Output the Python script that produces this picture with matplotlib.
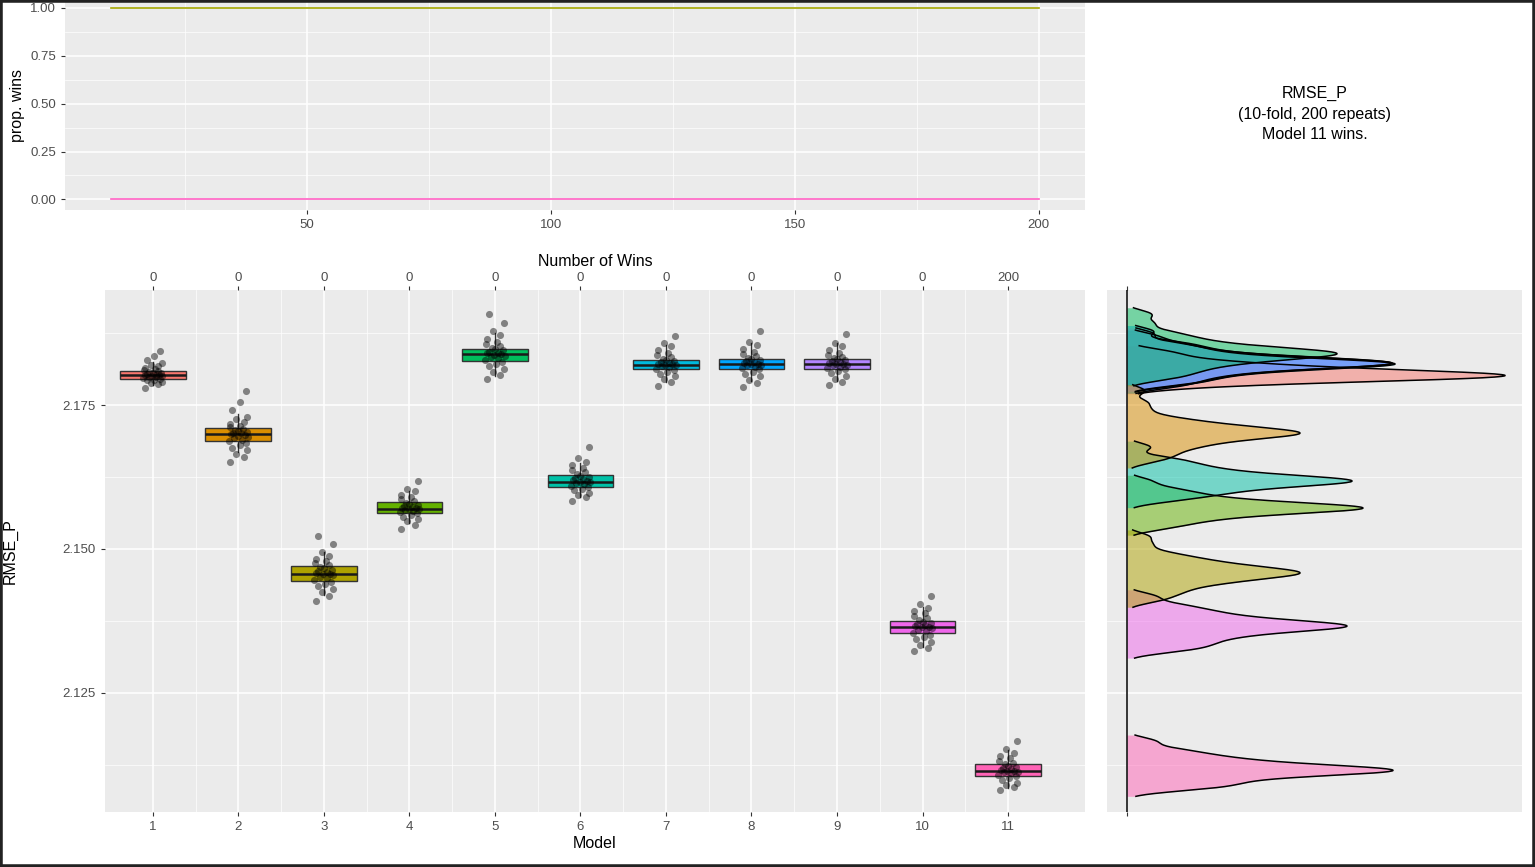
import numpy as np
import matplotlib.pyplot as plt
from matplotlib.patches import Rectangle

plt.rcParams['font.family'] = ['Liberation Sans', 'DejaVu Sans']

models = list(range(1, 12))
colors = ['#F8766D', '#DB8E00', '#AEA200', '#64B200', '#00BD5C', '#00C1A7',
          '#00BADE', '#00A6FF', '#B385FF', '#EF67EB', '#FF63B6']
wins = [0, 0, 0, 0, 0, 0, 0, 0, 0, 0, 200]

# box stats: (q1, median, q3, low whisker, high whisker)
box_stats = [
    (2.1795, 2.1803, 2.1810, 2.1785, 2.1825),
    (2.1687, 2.1700, 2.1710, 2.1668, 2.1735),
    (2.1444, 2.1457, 2.1470, 2.1420, 2.1495),
    (2.1562, 2.1570, 2.1581, 2.1545, 2.1600),
    (2.1826, 2.1838, 2.1848, 2.1800, 2.1875),
    (2.1607, 2.1617, 2.1629, 2.1590, 2.1650),
    (2.1812, 2.1820, 2.1829, 2.1790, 2.1855),
    (2.1813, 2.1822, 2.1830, 2.1792, 2.1858),
    (2.1813, 2.1822, 2.1830, 2.1792, 2.1858),
    (2.1354, 2.1365, 2.1375, 2.1330, 2.1400),
    (2.1106, 2.1115, 2.1126, 2.1085, 2.1150),
]

# sample of the jittered points per model
points = [
    [2.1780, 2.1786, 2.1789, 2.1791, 2.1793, 2.1794, 2.1796, 2.1797, 2.1798, 2.1799, 2.1800, 2.1801, 2.1802, 2.1802, 2.1803, 2.1804, 2.1805, 2.1806, 2.1808, 2.1810, 2.1811, 2.1813, 2.1815, 2.1818, 2.1820, 2.1824, 2.1828, 2.1836, 2.1844],
    [2.1652, 2.1660, 2.1665, 2.1672, 2.1676, 2.1680, 2.1684, 2.1687, 2.1690, 2.1692, 2.1695, 2.1697, 2.1698, 2.1700, 2.1701, 2.1702, 2.1704, 2.1705, 2.1707, 2.1709, 2.1712, 2.1714, 2.1717, 2.1720, 2.1725, 2.1730, 2.1742, 2.1755, 2.1775],
    [2.1410, 2.1418, 2.1425, 2.1430, 2.1436, 2.1440, 2.1443, 2.1446, 2.1449, 2.1451, 2.1454, 2.1456, 2.1457, 2.1459, 2.1460, 2.1462, 2.1464, 2.1467, 2.1469, 2.1472, 2.1475, 2.1479, 2.1483, 2.1488, 2.1495, 2.1508, 2.1522],
    [2.1535, 2.1542, 2.1548, 2.1552, 2.1556, 2.1559, 2.1562, 2.1564, 2.1566, 2.1568, 2.1569, 2.1570, 2.1571, 2.1572, 2.1573, 2.1575, 2.1576, 2.1578, 2.1580, 2.1583, 2.1586, 2.1590, 2.1594, 2.1600, 2.1605, 2.1618],
    [2.1795, 2.1802, 2.1808, 2.1813, 2.1818, 2.1822, 2.1825, 2.1828, 2.1831, 2.1833, 2.1835, 2.1837, 2.1838, 2.1840, 2.1841, 2.1843, 2.1845, 2.1847, 2.1849, 2.1852, 2.1856, 2.1860, 2.1865, 2.1871, 2.1878, 2.1892, 2.1908],
    [2.1583, 2.1590, 2.1594, 2.1598, 2.1602, 2.1605, 2.1608, 2.1610, 2.1613, 2.1615, 2.1616, 2.1617, 2.1618, 2.1620, 2.1621, 2.1623, 2.1625, 2.1627, 2.1630, 2.1633, 2.1637, 2.1641, 2.1646, 2.1652, 2.1658, 2.1677],
    [2.1784, 2.1790, 2.1795, 2.1800, 2.1804, 2.1808, 2.1811, 2.1813, 2.1816, 2.1818, 2.1819, 2.1820, 2.1821, 2.1822, 2.1823, 2.1825, 2.1826, 2.1828, 2.1830, 2.1833, 2.1837, 2.1841, 2.1846, 2.1852, 2.1858, 2.1870],
    [2.1781, 2.1788, 2.1794, 2.1800, 2.1804, 2.1808, 2.1812, 2.1814, 2.1817, 2.1819, 2.1820, 2.1821, 2.1822, 2.1823, 2.1825, 2.1826, 2.1828, 2.1830, 2.1832, 2.1835, 2.1838, 2.1843, 2.1848, 2.1854, 2.1860, 2.1878],
    [2.1785, 2.1791, 2.1796, 2.1801, 2.1805, 2.1809, 2.1812, 2.1814, 2.1817, 2.1819, 2.1820, 2.1821, 2.1822, 2.1823, 2.1825, 2.1826, 2.1828, 2.1830, 2.1831, 2.1834, 2.1837, 2.1841, 2.1846, 2.1852, 2.1858, 2.1874],
    [2.1322, 2.1328, 2.1333, 2.1338, 2.1343, 2.1347, 2.1351, 2.1354, 2.1357, 2.1360, 2.1362, 2.1364, 2.1365, 2.1366, 2.1368, 2.1370, 2.1372, 2.1374, 2.1377, 2.1380, 2.1384, 2.1388, 2.1393, 2.1398, 2.1405, 2.1418],
    [2.1082, 2.1086, 2.1090, 2.1094, 2.1098, 2.1102, 2.1105, 2.1108, 2.1110, 2.1112, 2.1113, 2.1114, 2.1115, 2.1116, 2.1118, 2.1120, 2.1121, 2.1123, 2.1126, 2.1129, 2.1132, 2.1136, 2.1140, 2.1146, 2.1152, 2.1166],
]
jitter = [-0.12, 0.08, -0.03, 0.13, -0.09, 0.02, 0.11, -0.14, 0.05, -0.06, 0.14, -0.01, 0.09, -0.11, 0.04, -0.08, 0.12, 0.0, -0.05, 0.07, -0.13, 0.03]

# peak heights of the density curves (panel units)
dens_peaks = [378, 173, 173, 236, 210, 225, 268, 265, 265, 220, 266]

# top panel lines
win_x = [10, 200]
prop_top = [1.0, 1.0]
prop_bottom = [0.0, 0.0]

BG = '#EBEBEB'
TXT = '#4D4D4D'

fig = plt.figure(figsize=(15.35, 8.67), dpi=100)
W, H = 1535, 867


def add_ax(x0, y0, x1, y1):
    return fig.add_axes([x0 / W, 1 - y1 / H, (x1 - x0) / W, (y1 - y0) / H])


def gg(ax):
    ax.set_facecolor(BG)
    for s in ax.spines.values():
        s.set_visible(False)
    ax.tick_params(colors='#333333', labelcolor=TXT, labelsize=9.5, length=3)
    ax.set_axisbelow(True)


# ---- top panel
ax0 = add_ax(65, 0, 1085, 210)
gg(ax0)
ax0.plot(win_x, prop_top, color='#A3A500', lw=1.2)
ax0.plot(win_x, prop_bottom, color='#FF61C3', lw=1.2)
ax0.set_xlim(0.5, 209.5)
ax0.set_ylim(-0.055, 1.04)
ax0.set_xticks([50, 100, 150, 200])
ax0.set_xticks([25, 75, 125, 175], minor=True)
ax0.set_yticks([0, 0.25, 0.5, 0.75, 1.0])
ax0.set_yticklabels(['0.00', '0.25', '0.50', '0.75', '1.00'])
ax0.set_yticks([0.125, 0.375, 0.625, 0.875], minor=True)
ax0.tick_params(which='minor', length=0)
ax0.grid(which='major', color='white', lw=1.1)
ax0.grid(which='minor', color='white', lw=0.5)
ax0.set_ylabel('prop. wins', fontsize=11.5, labelpad=4)

fig.text(1315 / W, 1 - 114 / H, 'RMSE_P\n(10-fold, 200 repeats)\nModel 11 wins.',
         ha='center', va='center', fontsize=11.5, linespacing=1.45)

# ---- main panel
ax = add_ax(105, 290, 1085, 812)
gg(ax)
ylo, yhi = 2.1043, 2.1950
stats = []
for (q1, med, q3, lo, hi) in box_stats:
    stats.append(dict(q1=q1, med=med, q3=q3, whislo=lo, whishi=hi, fliers=[]))
bp = ax.bxp(stats, positions=models, widths=0.77, patch_artist=True, showfliers=False,
            medianprops=dict(color='#1a1a1a', lw=1.8),
            whiskerprops=dict(color='#333333'), capprops=dict(visible=False),
            boxprops=dict(edgecolor='#333333', lw=1))
for patch, c in zip(bp['boxes'], colors):
    patch.set_facecolor(c)
for m, pts in zip(models, points):
    xs = [m + 0.8 * jitter[k % len(jitter)] for k in range(len(pts))]
    ax.scatter(xs, pts, s=26, color='black', alpha=0.45, lw=0, zorder=5)
ax.set_xlim(0.44, 11.9)
ax.set_ylim(ylo, yhi)
ax.set_xticks(models)
ax.set_xticklabels([str(m) for m in models])
ax.set_yticks([2.125, 2.150, 2.175])
ax.set_yticks([2.1125, 2.1375, 2.1625, 2.1875], minor=True)
ax.set_xticks([m + 0.5 for m in models[:-1]], minor=True)
ax.tick_params(which='minor', length=0)
ax.grid(which='major', color='white', lw=1.1)
ax.grid(which='minor', color='white', lw=0.5)
ax.set_xlabel('Model', fontsize=11.5, labelpad=2)
ax.set_ylabel('RMSE_P', fontsize=11.5)
ax.yaxis.set_label_coords(-87 / 980, 0.5)

axt = ax.twiny()
axt.set_xlim(ax.get_xlim())
axt.set_xticks(models)
axt.set_xticklabels([str(w) for w in wins])
axt.tick_params(colors='#333333', labelcolor=TXT, labelsize=9.5, length=3, pad=1)
for s in axt.spines.values():
    s.set_visible(False)
axt.set_xlabel('Number of Wins', fontsize=11.5, labelpad=5)

# ---- density panel
axd = add_ax(1107, 290, 1522, 812)
gg(axd)
grid_y = np.linspace(ylo, yhi, 1500)
order = np.argsort([-p for p in dens_peaks])
for i in order:
    pts = np.array(points[i])
    bw = 0.0007
    d = np.exp(-0.5 * ((grid_y[:, None] - pts[None, :]) / bw) ** 2).sum(axis=1)
    d = d / d.max() * dens_peaks[i]
    mask = d > 0.03 * dens_peaks[i]
    axd.fill_betweenx(grid_y[mask], 0, d[mask], color=colors[i], alpha=0.5, lw=0)
    axd.plot(d[mask], grid_y[mask], color='black', lw=1.1)
axd.set_xlim(-20, 395)
axd.set_ylim(ylo, yhi)
axd.set_xticks([0])
axd.set_xticklabels([''])
axd.set_yticks([2.125, 2.150, 2.175])
axd.set_yticks([2.1125, 2.1375, 2.1625, 2.1875], minor=True)
axd.tick_params(axis='y', left=False, labelleft=False, which='both')
axd.tick_params(axis='x', top=True, which='major', length=3)
axd.grid(axis='y', which='major', color='white', lw=1.1)
axd.grid(axis='y', which='minor', color='white', lw=0.5)
axd.grid(axis='x', color='white', lw=1.1)
axd.axvline(0, color='black', lw=1.1)

fig.patches.append(Rectangle((0, 0), 1, 1, transform=fig.transFigure,
                             fill=False, edgecolor='#222222', lw=4))

fig.savefig('out.png', dpi=100)
